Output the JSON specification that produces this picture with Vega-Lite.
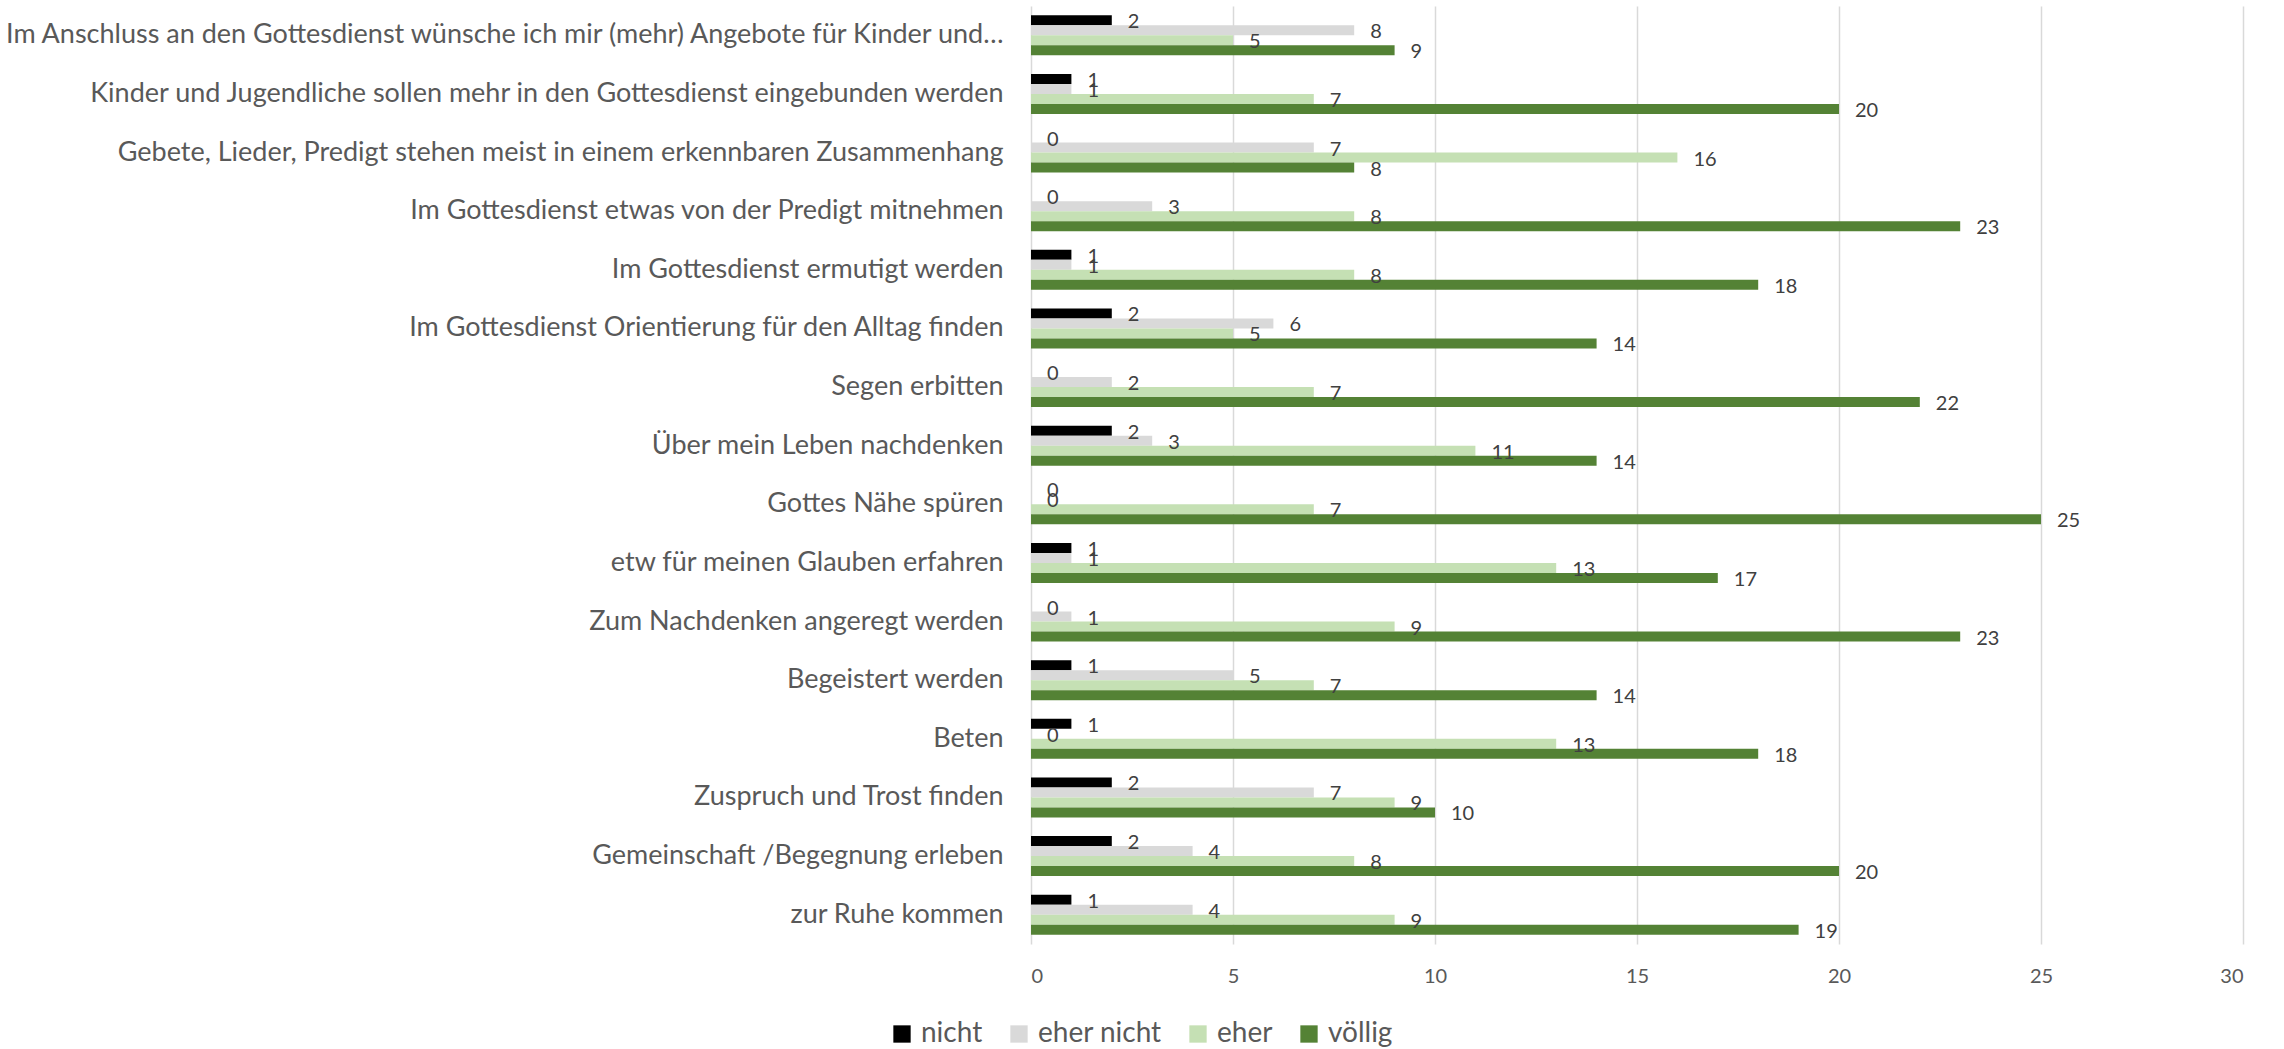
{
  "$schema": "https://vega.github.io/schema/vega-lite/v6.json",
  "width": 1212,
  "height": 938,
  "autosize": {"type": "none"},
  "padding": {"left": 1031, "top": 6, "right": 41, "bottom": 105},
  "background": "white",
  "config": {"view": {"stroke": null}},
  "data": {"values": [
    {"item": "Im Anschluss an den Gottesdienst wünsche ich mir (mehr) Angebote für Kinder und…", "level": "nicht", "n": 2},
    {"item": "Im Anschluss an den Gottesdienst wünsche ich mir (mehr) Angebote für Kinder und…", "level": "eher nicht", "n": 8},
    {"item": "Im Anschluss an den Gottesdienst wünsche ich mir (mehr) Angebote für Kinder und…", "level": "eher", "n": 5},
    {"item": "Im Anschluss an den Gottesdienst wünsche ich mir (mehr) Angebote für Kinder und…", "level": "völlig", "n": 9},
    {"item": "Kinder und Jugendliche sollen mehr in den Gottesdienst eingebunden werden", "level": "nicht", "n": 1},
    {"item": "Kinder und Jugendliche sollen mehr in den Gottesdienst eingebunden werden", "level": "eher nicht", "n": 1},
    {"item": "Kinder und Jugendliche sollen mehr in den Gottesdienst eingebunden werden", "level": "eher", "n": 7},
    {"item": "Kinder und Jugendliche sollen mehr in den Gottesdienst eingebunden werden", "level": "völlig", "n": 20},
    {"item": "Gebete, Lieder, Predigt stehen meist in einem erkennbaren Zusammenhang", "level": "nicht", "n": 0},
    {"item": "Gebete, Lieder, Predigt stehen meist in einem erkennbaren Zusammenhang", "level": "eher nicht", "n": 7},
    {"item": "Gebete, Lieder, Predigt stehen meist in einem erkennbaren Zusammenhang", "level": "eher", "n": 16},
    {"item": "Gebete, Lieder, Predigt stehen meist in einem erkennbaren Zusammenhang", "level": "völlig", "n": 8},
    {"item": "Im Gottesdienst etwas von der Predigt mitnehmen", "level": "nicht", "n": 0},
    {"item": "Im Gottesdienst etwas von der Predigt mitnehmen", "level": "eher nicht", "n": 3},
    {"item": "Im Gottesdienst etwas von der Predigt mitnehmen", "level": "eher", "n": 8},
    {"item": "Im Gottesdienst etwas von der Predigt mitnehmen", "level": "völlig", "n": 23},
    {"item": "Im Gottesdienst ermutigt werden", "level": "nicht", "n": 1},
    {"item": "Im Gottesdienst ermutigt werden", "level": "eher nicht", "n": 1},
    {"item": "Im Gottesdienst ermutigt werden", "level": "eher", "n": 8},
    {"item": "Im Gottesdienst ermutigt werden", "level": "völlig", "n": 18},
    {"item": "Im Gottesdienst Orientierung für den  Alltag finden", "level": "nicht", "n": 2},
    {"item": "Im Gottesdienst Orientierung für den  Alltag finden", "level": "eher nicht", "n": 6},
    {"item": "Im Gottesdienst Orientierung für den  Alltag finden", "level": "eher", "n": 5},
    {"item": "Im Gottesdienst Orientierung für den  Alltag finden", "level": "völlig", "n": 14},
    {"item": "Segen erbitten", "level": "nicht", "n": 0},
    {"item": "Segen erbitten", "level": "eher nicht", "n": 2},
    {"item": "Segen erbitten", "level": "eher", "n": 7},
    {"item": "Segen erbitten", "level": "völlig", "n": 22},
    {"item": "Über mein Leben nachdenken", "level": "nicht", "n": 2},
    {"item": "Über mein Leben nachdenken", "level": "eher nicht", "n": 3},
    {"item": "Über mein Leben nachdenken", "level": "eher", "n": 11},
    {"item": "Über mein Leben nachdenken", "level": "völlig", "n": 14},
    {"item": "Gottes Nähe spüren", "level": "nicht", "n": 0},
    {"item": "Gottes Nähe spüren", "level": "eher nicht", "n": 0},
    {"item": "Gottes Nähe spüren", "level": "eher", "n": 7},
    {"item": "Gottes Nähe spüren", "level": "völlig", "n": 25},
    {"item": "etw für meinen Glauben erfahren", "level": "nicht", "n": 1},
    {"item": "etw für meinen Glauben erfahren", "level": "eher nicht", "n": 1},
    {"item": "etw für meinen Glauben erfahren", "level": "eher", "n": 13},
    {"item": "etw für meinen Glauben erfahren", "level": "völlig", "n": 17},
    {"item": "Zum Nachdenken angeregt werden", "level": "nicht", "n": 0},
    {"item": "Zum Nachdenken angeregt werden", "level": "eher nicht", "n": 1},
    {"item": "Zum Nachdenken angeregt werden", "level": "eher", "n": 9},
    {"item": "Zum Nachdenken angeregt werden", "level": "völlig", "n": 23},
    {"item": "Begeistert werden", "level": "nicht", "n": 1},
    {"item": "Begeistert werden", "level": "eher nicht", "n": 5},
    {"item": "Begeistert werden", "level": "eher", "n": 7},
    {"item": "Begeistert werden", "level": "völlig", "n": 14},
    {"item": "Beten", "level": "nicht", "n": 1},
    {"item": "Beten", "level": "eher nicht", "n": 0},
    {"item": "Beten", "level": "eher", "n": 13},
    {"item": "Beten", "level": "völlig", "n": 18},
    {"item": "Zuspruch und Trost finden", "level": "nicht", "n": 2},
    {"item": "Zuspruch und Trost finden", "level": "eher nicht", "n": 7},
    {"item": "Zuspruch und Trost finden", "level": "eher", "n": 9},
    {"item": "Zuspruch und Trost finden", "level": "völlig", "n": 10},
    {"item": "Gemeinschaft /Begegnung erleben", "level": "nicht", "n": 2},
    {"item": "Gemeinschaft /Begegnung erleben", "level": "eher nicht", "n": 4},
    {"item": "Gemeinschaft /Begegnung erleben", "level": "eher", "n": 8},
    {"item": "Gemeinschaft /Begegnung erleben", "level": "völlig", "n": 20},
    {"item": "zur Ruhe kommen", "level": "nicht", "n": 1},
    {"item": "zur Ruhe kommen", "level": "eher nicht", "n": 4},
    {"item": "zur Ruhe kommen", "level": "eher", "n": 9},
    {"item": "zur Ruhe kommen", "level": "völlig", "n": 19}
  ]},
  "encoding": {
    "y": {
      "field": "item", "type": "nominal", "sort": null, "title": null,
      "scale": {"paddingInner": 0.318, "paddingOuter": 0.159},
      "axis": {"domain": false, "ticks": false, "labelLimit": 1100, "labelPadding": 28,
               "labelFont": "Lato", "labelFontSize": 27, "labelColor": "#595959"}
    },
    "yOffset": {"field": "level", "type": "nominal", "sort": ["nicht", "eher nicht", "eher", "völlig"], "scale": {"paddingInner": 0, "paddingOuter": 0}},
    "x": {
      "field": "n", "type": "quantitative", "title": null,
      "scale": {"domain": [0, 30]},
      "axis": {"values": [0, 5, 10, 15, 20, 25, 30], "domain": false, "ticks": false, "grid": true,
               "gridColor": "#d9d9d9", "gridWidth": 1.5, "labelPadding": 22,
               "labelFont": "Lato", "labelFontSize": 20, "labelColor": "#595959"}
    }
  },
  "layer": [
    {
      "mark": {"type": "bar"},
      "encoding": {
        "color": {
          "field": "level", "type": "nominal", "title": null,
          "scale": {"domain": ["nicht", "eher nicht", "eher", "völlig"], "range": ["#000000", "#d9d9d9", "#c5e0b4", "#548235"]},
          "legend": {"orient": "none", "direction": "horizontal", "legendX": -143, "legendY": 1014,
                     "symbolType": "square", "symbolSize": 300, "symbolStrokeWidth": 0,
                     "labelFont": "Lato", "labelFontSize": 28, "labelColor": "#595959",
                     "columnPadding": 22, "labelOffset": 5}
        }
      }
    },
    {
      "mark": {"type": "text", "align": "left", "baseline": "middle", "dx": 16, "dy": 2,
               "font": "Lato", "fontSize": 20, "color": "#404040"},
      "encoding": {"text": {"field": "n", "type": "quantitative"}}
    }
  ]
}
